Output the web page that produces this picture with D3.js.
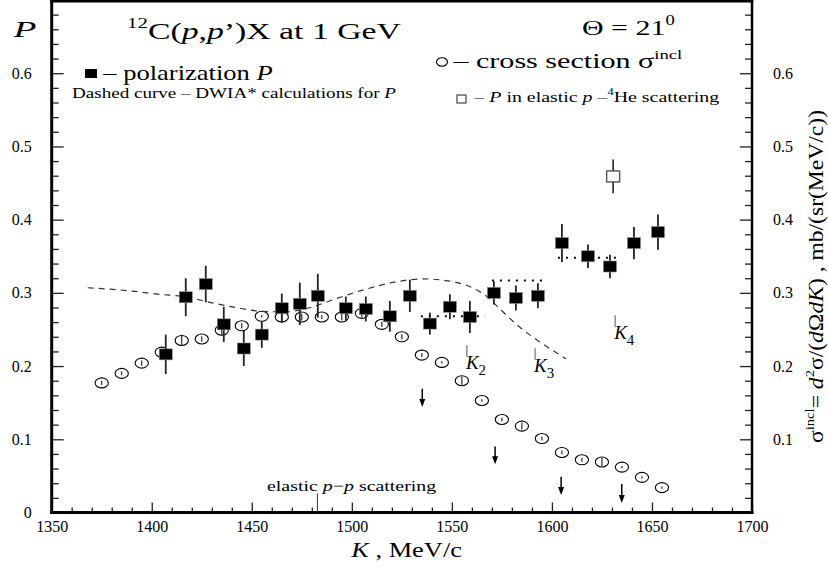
<!DOCTYPE html>
<html><head><meta charset="utf-8">
<script src="https://cdn.jsdelivr.net/npm/d3@7"></script>
<style>
html,body{margin:0;padding:0;background:#fff;}
svg{display:block;}
text{font-family:"Liberation Serif","Times New Roman",serif;fill:#000;white-space:pre;}
</style></head><body>
<svg id="chart" width="828" height="567"></svg>
<script>
// ---------- data ----------
const xMajorTicks = [1350,1400,1450,1500,1550,1600,1650,1700];
const yMajorTicks = [0,0.1,0.2,0.3,0.4,0.5,0.6];
const yTickLabels = ["0","0.1","0.2","0.3","0.4","0.5","0.6"];

// cross section sigma^incl (open circles)
const xsK   = [1375,1385,1395,1405,1415,1425,1435,1445,1455,1465,1475,1485,1495,1505,1515,1525,1535,1545,1555,1565,1575,1585,1595,1605,1615,1625,1635,1645,1655];
const xsVal = [0.177,0.190,0.204,0.219,0.235,0.237,0.249,0.255,0.268,0.267,0.267,0.267,0.267,0.272,0.257,0.240,0.215,0.205,0.180,0.153,0.127,0.118,0.101,0.082,0.072,0.069,0.062,0.048,0.034];
const xsErr = [0.002,0.002,0.003,0.002,0.007,0.003,0.006,0.003,0.001,0.005,0.004,0.002,0.004,0.005,0.003,0.003,0.002,0.001,0.005,0.001,0.002,0.004,0.002,0.002,0.002,0.005,0.001,0.001,0.001];

// polarization P (filled squares)
const polK   = [1407,1417,1427,1436,1446,1455,1465,1474,1483,1497,1507,1519,1529,1539,1549,1559,1571,1582,1593,1605,1618,1629,1641,1653];
const polVal = [0.216,0.294,0.312,0.257,0.224,0.243,0.279,0.285,0.296,0.279,0.278,0.268,0.296,0.258,0.281,0.267,0.300,0.293,0.296,0.368,0.350,0.336,0.368,0.383];
const polErr = [0.027,0.026,0.025,0.024,0.024,0.018,0.020,0.029,0.030,0.016,0.017,0.021,0.022,0.015,0.017,0.022,0.016,0.017,0.017,0.026,0.016,0.016,0.022,0.024];

// P in elastic p-4He scattering (open square)
const heK = [1630.6];
const heVal = [0.459];
const heErr = [0.023];

// DWIA* calculation (dashed curve)
const dwiaK   = [1368,1388,1404,1418,1429,1442,1454,1466,1478,1491,1507,1524,1536,1549,1561,1567,1574,1584,1594,1607];
const dwiaVal = [0.307,0.303,0.298,0.294,0.287,0.280,0.275,0.274,0.279,0.291,0.305,0.316,0.319,0.316,0.306,0.296,0.278,0.253,0.233,0.210];

// dotted plateaus
const plateauFrom = [1534.5,1570,1603];
const plateauTo   = [1566.6,1598,1635];
const plateauVal  = [0.268,0.317,0.348];

// K thresholds
const kNames = ["2","3","4"];
const kPos   = [1557.5,1591.6,1631.6];
const kTop   = [0.2285,0.2244,0.2694];

// arrows
const arrowK   = [1535.2,1571.6,1604.6,1634.9];
const arrowTop = [0.169,0.090,0.049,0.039];
const arrowTip = [0.144,0.066,0.024,0.013];

// elastic p-p marker
const elasticK = [1482.8];
const elasticTop = [0.026];

// ---------- layout ----------
const L = 51.7, R = 752, T = 0, B = 512.5;
const svg = d3.select("#chart");
const x = d3.scaleLinear().domain([1350,1700]).range([L,R]);
const y = d3.scaleLinear().domain([0,0.7]).range([B,T]);

const xMinor = d3.range(1360,1700,10).filter(v => v % 50 !== 0);
const yMinor = d3.range(1,35).map(i => +(i*0.02).toFixed(2)).filter(v => Math.round(v*100) % 10 !== 0);

function styleAxis(g){
  g.attr("font-family",null).attr("font-size",null);
  g.select(".domain").remove();
  g.selectAll(".tick line").attr("stroke","#222").attr("stroke-width",1.3);
  g.selectAll(".tick text").attr("font-size",16).attr("fill","#000");
}
// left axis
svg.append("g").attr("transform",`translate(${L},0)`)
  .call(d3.axisLeft(y).tickValues(yMajorTicks).tickSize(-12).tickPadding(20)
    .tickFormat((d,i)=>yTickLabels[i])).call(styleAxis);
svg.append("g").attr("transform",`translate(${L},0)`)
  .call(d3.axisLeft(y).tickValues(yMinor).tickSize(-7).tickFormat("")).call(styleAxis);
// right axis
svg.append("g").attr("transform",`translate(${R},0)`)
  .call(d3.axisRight(y).tickValues(yMajorTicks.slice(1)).tickSize(-12).tickPadding(21)
    .tickFormat((d,i)=>yTickLabels[i+1])).call(styleAxis);
svg.append("g").attr("transform",`translate(${R},0)`)
  .call(d3.axisRight(y).tickValues(yMinor).tickSize(-7).tickFormat("")).call(styleAxis);
// bottom axis
svg.append("g").attr("transform",`translate(0,${B})`)
  .call(d3.axisBottom(x).tickValues(xMajorTicks).tickSize(-10).tickPadding(8).tickFormat(d3.format("d"))).call(styleAxis);
svg.append("g").attr("transform",`translate(0,${B})`)
  .call(d3.axisBottom(x).tickValues(xMinor).tickSize(-5).tickFormat("")).call(styleAxis);

// frame
const frame = svg.append("g").attr("stroke","#000").attr("stroke-linecap","square");
frame.append("line").attr("x1",L).attr("x2",L).attr("y1",1).attr("y2",B).attr("stroke-width",3);
frame.append("line").attr("x1",L).attr("x2",R).attr("y1",B).attr("y2",B).attr("stroke-width",3);
frame.append("line").attr("x1",L).attr("x2",R).attr("y1",1.2).attr("y2",1.2).attr("stroke-width",2.5);
frame.append("line").attr("x1",R).attr("x2",R).attr("y1",1).attr("y2",B).attr("stroke-width",2.5);

// ---------- rich text helpers ----------
function richText(parent, runs, size){
  const t = parent.append("text").attr("font-size",size);
  let cur = 0;
  runs.forEach(r => {
    const s = Array.isArray(r) ? r[0] : r;
    const st = Array.isArray(r) ? r[1] : "";
    const sp = t.append("tspan").text(s);
    let off = 0, fs = size;
    if (st.includes("sup")) { off = -0.45*size; fs = size*0.62; }
    if (st.includes("sub")) { off = 0.32*size; fs = size*0.8; }
    if (st.includes("i")) sp.attr("font-style","italic");
    sp.attr("font-size",fs).attr("dy",off-cur);
    cur = off;
  });
  return t;
}
function fitH(t, x0, x1, baseline){
  const bb = t.node().getBBox();
  const sx = (x1-x0)/bb.width;
  t.attr("transform",`translate(${x0 - bb.x*sx},${baseline}) scale(${sx},1)`);
}
function fitV(t, y0, y1, bx){
  const bb = t.node().getBBox();
  const sx = (y0-y1)/bb.width;
  t.attr("transform",`translate(${bx},${y0 + bb.x*sx}) rotate(-90) scale(${sx},1)`);
}

// ---------- texts ----------
fitH(richText(svg,[["12","sup"],"C(",["p","i"],",",["p","i"],"’)X at 1 GeV"],24),127,402,39);
fitH(richText(svg,["Θ = 21",["0","sup"]],22),582,675,35);
fitH(richText(svg,[["P","i"]],24),12,37,37);

// legend
svg.append("rect").attr("x",85).attr("y",69).attr("width",12).attr("height",9).attr("fill","#000");
fitH(richText(svg,["– polarization ",["P","i"]],21),102,273,80);
fitH(richText(svg,["Dashed curve – DWIA* calculations for ",["P","i"]],14),72,397,97.5);
svg.append("ellipse").attr("cx",442).attr("cy",62).attr("rx",5.5).attr("ry",4.2).attr("fill","none").attr("stroke","#000").attr("stroke-width",1.1);
fitH(richText(svg,["– cross section σ",["incl","sup"]],21),452,683,68);
svg.append("rect").attr("x",457).attr("y",95).attr("width",9).attr("height",8).attr("fill","#fff").attr("stroke","#333").attr("stroke-width",1.1);
fitH(richText(svg,["– ",["P","i"]," in elastic ",["p","i"]," –",["4","sup"],"He scattering"],15),473,720,102);

// axis titles
fitH(richText(svg,[["K","i"]," , MeV/c"],21),350,462,557);
fitV(richText(svg,["σ",["incl","sup"],"= ",["d","i"],["2","sup"],"σ/(",["d","i"],"Ω",["dK","i"],") , mb/(sr(MeV/c))"],20),443,110,823);

// elastic p-p marker
svg.selectAll(".elastic").data(elasticK).join("line").attr("class","elastic")
  .attr("x1",d=>x(d)).attr("x2",d=>x(d)).attr("y1",(d,i)=>y(elasticTop[i])).attr("y2",B)
  .attr("stroke","#333").attr("stroke-width",1);
fitH(richText(svg,["elastic ",["p","i"],"−",["p","i"]," scattering"],15),267,437,491);

// ---------- marks ----------
const plot = svg.append("g");

// circles (cross section)
const xsData = xsK.map((k,i)=>({k, v:xsVal[i], e:xsErr[i]}));
plot.selectAll(".xs").data(xsData).join("ellipse").attr("class","xs")
  .attr("cx",d=>x(d.k)).attr("cy",d=>y(d.v)).attr("rx",6.6).attr("ry",5)
  .attr("fill","none").attr("stroke","#000").attr("stroke-width",1.1);
plot.selectAll(".xse").data(xsData).join("line").attr("class","xse")
  .attr("x1",d=>x(d.k)).attr("x2",d=>x(d.k))
  .attr("y1",d=>y(d.v+d.e)-0.5).attr("y2",d=>y(d.v-d.e)+0.5)
  .attr("stroke","#000").attr("stroke-width",1);

// dashed DWIA curve
plot.append("path").datum(dwiaK.map((k,i)=>[k,dwiaVal[i]]))
  .attr("d",d3.line().x(d=>x(d[0])).y(d=>y(d[1])).curve(d3.curveMonotoneX))
  .attr("fill","none").attr("stroke","#333").attr("stroke-width",1.2).attr("stroke-dasharray","6,5");

// dotted plateaus
plot.selectAll(".plat").data(plateauVal).join("line").attr("class","plat")
  .attr("x1",(d,i)=>x(plateauFrom[i])).attr("x2",(d,i)=>x(plateauTo[i]))
  .attr("y1",d=>y(d)).attr("y2",d=>y(d))
  .attr("stroke","#000").attr("stroke-width",2).attr("stroke-dasharray","2,6");

// polarization error bars and squares
const polData = polK.map((k,i)=>({k, v:polVal[i], e:polErr[i]}));
plot.selectAll(".pe").data(polData).join("line").attr("class","pe")
  .attr("x1",d=>x(d.k)).attr("x2",d=>x(d.k)).attr("y1",d=>y(d.v+d.e)).attr("y2",d=>y(d.v-d.e))
  .attr("stroke","#222").attr("stroke-width",1.8);
plot.selectAll(".ps").data(polData).join("rect").attr("class","ps")
  .attr("x",d=>x(d.k)-6.5).attr("y",d=>y(d.v)-5.5).attr("width",13).attr("height",11)
  .attr("fill","#000").attr("stroke","#888").attr("stroke-width",0.6);

// open square p-4He
const heData = heK.map((k,i)=>({k, v:heVal[i], e:heErr[i]}));
plot.selectAll(".hee").data(heData).join("line").attr("class","hee")
  .attr("x1",d=>x(d.k)).attr("x2",d=>x(d.k)).attr("y1",d=>y(d.v+d.e)).attr("y2",d=>y(d.v-d.e))
  .attr("stroke","#222").attr("stroke-width",1.6);
plot.selectAll(".hes").data(heData).join("rect").attr("class","hes")
  .attr("x",d=>x(d.k)-6.5).attr("y",d=>y(d.v)-5.5).attr("width",13).attr("height",11)
  .attr("fill","#fff").attr("stroke","#555").attr("stroke-width",1.4);

// arrows
arrowK.forEach((k,i)=>{
  const ax = x(k), top = y(arrowTop[i]), tip = y(arrowTip[i]);
  plot.append("line").attr("x1",ax).attr("x2",ax).attr("y1",top).attr("y2",tip-4)
    .attr("stroke","#000").attr("stroke-width",1.5);
  plot.append("path").attr("d",`M${ax-3},${tip-8}L${ax+3},${tip-8}L${ax},${tip}Z`).attr("fill","#000");
});

// K labels
kPos.forEach((k,i)=>{
  const kx = x(k), kt = y(kTop[i]);
  plot.append("line").attr("x1",kx).attr("x2",kx).attr("y1",kt).attr("y2",kt+12)
    .attr("stroke","#444").attr("stroke-width",0.9);
  const t = plot.append("text").attr("x",kx-1).attr("y",kt+24).attr("font-size",19);
  t.append("tspan").attr("font-style","italic").text("K");
  t.append("tspan").attr("font-size",15).attr("dy",6).text(kNames[i]);
});
</script>
</body></html>
